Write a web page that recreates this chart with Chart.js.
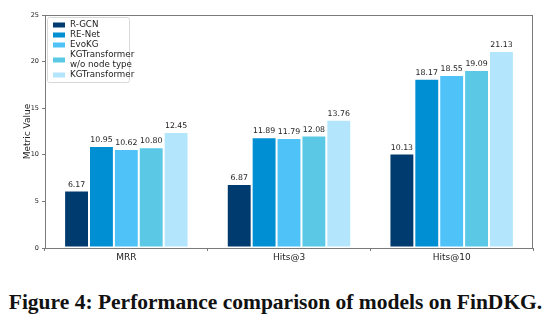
<!DOCTYPE html>
<html>
<head>
<meta charset="utf-8">
<script src="https://cdn.jsdelivr.net/npm/chart.js@4/dist/chart.umd.min.js"></script>
<style>
  body { margin: 0; background: #fff; width: 551px; height: 321px; overflow: hidden; }
  #wrap { position: relative; width: 551px; height: 270px; }
  #caption { position: absolute; left: 0; top: 290px; width: 551px; text-align: center;
    font-family: "Liberation Serif", "DejaVu Serif", serif; font-weight: bold; font-size: 21.5px; color: #111; white-space: nowrap; }
</style>
</head>
<body>
<div id="wrap"><canvas id="myChart" width="551" height="270"></canvas></div>
<div id="caption">Figure 4: Performance comparison of models on FinDKG.</div>
<script>
const metrics = ['MRR', 'Hits@3', 'Hits@10'];
const models = ['R-GCN', 'RE-Net', 'EvoKG', ['KGTransformer', 'w/o node type'], 'KGTransformer'];
const colors = ['#003B6F', '#008FD3', '#4FC3F7', '#5BC9E6', '#B3E5FC'];
const rgcn = [6.17, 6.87, 10.13];
const renet = [10.95, 11.89, 18.17];
const evokg = [10.62, 11.79, 18.55];
const kgtNoType = [10.80, 12.08, 19.09];
const kgt = [12.45, 13.76, 21.13];
const yTicks = [0, 5, 10, 15, 20, 25];

const series = [rgcn, renet, evokg, kgtNoType, kgt];
const axisGrey = '#7a7a7a';

// value labels above each bar
const valueLabels = {
  id: 'valueLabels',
  afterDatasetsDraw(chart) {
    const ctx = chart.ctx;
    ctx.save();
    ctx.font = '7.8px "DejaVu Sans"';
    ctx.fillStyle = '#222';
    ctx.textAlign = 'center';
    ctx.textBaseline = 'bottom';
    chart.data.datasets.forEach((ds, i) => {
      chart.getDatasetMeta(i).data.forEach((bar, j) => {
        ctx.fillText(ds.data[j].toFixed(2), bar.x, bar.y - 2);
      });
    });
    ctx.restore();
  }
};

// matplotlib-like frame + legend box in the upper-left
const frameLegend = {
  id: 'frameLegend',
  afterDraw(chart) {
    const ctx = chart.ctx;
    const a = chart.chartArea;
    ctx.save();
    ctx.strokeStyle = axisGrey;
    ctx.lineWidth = 1;
    ctx.strokeRect(a.left + 0.5, a.top + 0.5, a.right - a.left - 1, a.bottom - a.top);

    const x0 = a.left + 2, y0 = a.top + 2;
    ctx.font = '8.7px "DejaVu Sans"';
    const lineH = 10;
    let rows = 0;
    chart.data.datasets.forEach(ds => { rows += Array.isArray(ds.label) ? ds.label.length : 1; });
    const boxW = 82, boxH = rows * lineH + 5;
    ctx.fillStyle = 'rgba(255,255,255,0.85)';
    ctx.strokeStyle = '#d8d8d8';
    ctx.beginPath();
    ctx.roundRect(x0 + 0.5, y0 + 0.5, boxW, boxH, 2);
    ctx.fill();
    ctx.stroke();

    let y = y0 + 3;
    ctx.textBaseline = 'middle';
    ctx.textAlign = 'left';
    chart.data.datasets.forEach(ds => {
      const lines = Array.isArray(ds.label) ? ds.label : [ds.label];
      const h = lines.length * lineH;
      ctx.fillStyle = ds.backgroundColor;
      ctx.fillRect(x0 + 6, y + h / 2 - 2.5, 12, 5);
      ctx.fillStyle = '#222';
      lines.forEach((t, k) => ctx.fillText(t, x0 + 23, y + k * lineH + lineH / 2));
      y += h;
    });
    ctx.restore();
  }
};

const ctx = document.getElementById('myChart').getContext('2d');
new Chart(ctx, {
  type: 'bar',
  data: {
    labels: metrics,
    datasets: series.map((d, i) => ({
      label: models[i],
      data: d,
      backgroundColor: colors[i],
      borderColor: '#ffffff',
      borderWidth: 1,
      borderSkipped: false,
      categoryPercentage: 0.765,
      barPercentage: 1.0
    }))
  },
  options: {
    responsive: false,
    animation: false,
    events: [],
    layout: { padding: { left: 22, right: 18, top: 15, bottom: 0 } },
    plugins: { legend: { display: false }, tooltip: { enabled: false } },
    scales: {
      x: {
        grid: { display: true, drawOnChartArea: false, tickLength: 3, color: axisGrey },
        border: { color: axisGrey },
        ticks: { color: '#222', font: { family: 'DejaVu Sans', size: 9 }, padding: 1 },
        afterFit: s => { s.height = 22; }
      },
      y: {
        min: 0,
        max: 25,
        afterBuildTicks: s => { s.ticks = yTicks.map(v => ({ value: v })); },
        grid: { display: true, drawOnChartArea: false, tickLength: 3, color: axisGrey },
        border: { color: axisGrey },
        ticks: { color: '#222', font: { family: 'DejaVu Sans', size: 6.5 }, padding: 3 },
        title: { display: true, text: 'Metric Value', color: '#222', font: { family: 'DejaVu Sans', size: 9 }, padding: 0 },
        afterFit: s => { s.width = 23; }
      }
    }
  },
  plugins: [valueLabels, frameLegend]
});
</script>
</body>
</html>
